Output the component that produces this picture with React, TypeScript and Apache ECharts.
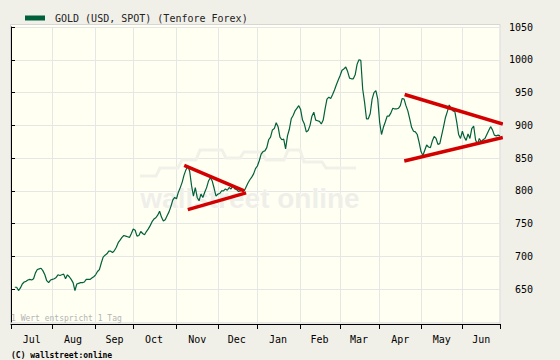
import React, { useEffect, useRef } from 'react';
import * as echarts from 'echarts';

const SERIES_NAME = 'GOLD (USD, SPOT) (Tenfore Forex)';
const MONTHS = ['Jul', 'Aug', 'Sep', 'Oct', 'Nov', 'Dec', 'Jan', 'Feb', 'Mar', 'Apr', 'May', 'Jun'];
const START_DATE = '2007-07-02';
const END_DATE = '2008-06-30';
const Y_MIN = 600;
const Y_MAX = 1050;
const Y_STEP = 50;

// daily closing values (one value per weekday)
const GOLD: (number | null)[] = [
  null, null,
  653, 653, 648, 652, 658, 661, 662, 664, 665, 664,
  666, 675, 680, 681, 682, 678, 672, 663, 660, 664,
  665, 666, 668, 672, 671, 672, 673, 666, 672, 669,
  665, 660, 648, 658, 659, 660, 660, 661, 665, 665,
  665, 667, 669, 672, 677, 680, 690, 699, 702, 704,
  708, 708, 706, 709, 714, 721, 725, 729, 732, 731,
  730, 729, 735, 742, 740, 731, 732, 738, 735, 733,
  738, 742, 747, 753, 757, 759, 763, 769, 760, 754,
  756, 762, 768, 776, 786, 790, 788, 798, 805, 813,
  824, 832, 838, 830, 808, 792, 805, 790, 785, 795,
  790, 798, 805, 815, 820, 815, 804, 792, 795, 796,
  800, 800, 803, 801, 805, 803, 808, 803, 802, 799,
  800, 802, 800, 806, 812, 817, 821, 826, 834, 838,
  846, 856, 860, 861, 866, 878, 882, 893, 895, 904,
  898, 882, 878, 879, 864, 884, 894, 910, 915, 922,
  926, 930, 924, 908, 902, 890, 892, 900, 914, 920,
  908, 907, 906, 902, 908, 925, 940, 943, 941, 947,
  954, 962, 969, 976, 984, 986, 989, 982, 972, 971,
  971, 977, 993, 1000, 999, 955, 935, 910, 910, 918,
  940, 950, 953, 940, 905, 886, 897, 905, 914, 914,
  919, 926, 925, 925, 926, 930, 941, 940, 930, 922,
  910, 897, 891, 890, 886, 874, 860, 854, 862, 870,
  867, 866, 876, 883, 880, 871, 872, 885, 898, 912,
  921, 931, 926, 922, 921, 905, 886, 880, 891, 882,
  877, 887, 880, 895, 899, 878, 871, 880, 875, 878,
  880, 886, 892, 898, 893, 885, 884, 885, 884,
];

// trend lines: [day index, value]
const TREND_1_UPPER = [[92.1, 839], [124, 800]];
const TREND_1_LOWER = [[94, 771.5], [125, 797]];
const TREND_2_UPPER = [[209.3, 947], [261.5, 902]];
const TREND_2_LOWER = [[209.1, 845.5], [261.5, 881.5]];

function buildWeekdays(start: string, end: string): string[] {
  const out: string[] = [];
  const d = new Date(start + 'T00:00:00Z');
  const e = new Date(end + 'T00:00:00Z');
  while (d.getTime() <= e.getTime()) {
    const wd = d.getUTCDay();
    if (wd !== 0 && wd !== 6) out.push(d.toISOString().slice(0, 10));
    d.setUTCDate(d.getUTCDate() + 1);
  }
  return out;
}

const MONO = 'DejaVu Sans Mono';

export default function App() {
  const ref = useRef<HTMLDivElement>(null);
  useEffect(() => {
    if (!ref.current) return;
    const chart = echarts.init(ref.current, undefined, { renderer: 'svg' });
    const cats = buildWeekdays(START_DATE, END_DATE);
    const last = cats.length - 1;
    const monthStarts: number[] = [];
    cats.forEach((c, i) => {
      if (i === 0 || c.slice(5, 7) !== cats[i - 1].slice(5, 7)) monthStarts.push(i);
    });
    const tickSet = new Set<number>([...monthStarts, last]);
    const bounds = [...monthStarts, cats.length];
    const labelMap = new Map<number, string>();
    for (let m = 0; m < monthStarts.length; m++) {
      const mid = Math.floor((bounds[m] + bounds[m + 1]) / 2);
      labelMap.set(mid, MONTHS[m]);
    }
    const trendSeries = [TREND_1_UPPER, TREND_1_LOWER, TREND_2_UPPER, TREND_2_LOWER].map((d) => ({
      type: 'line',
      xAxisIndex: 1,
      yAxisIndex: 0,
      data: d,
      symbol: 'none',
      clip: false,
      silent: true,
      z: 4,
      lineStyle: { color: '#d40000', width: 3.5, cap: 'butt' },
    }));
    chart.setOption({
      animation: false,
      backgroundColor: '#f0efe8',
      textStyle: { fontFamily: MONO },
      legend: {
        data: [SERIES_NAME],
        left: 20,
        top: 8,
        icon: 'rect',
        itemWidth: 20,
        itemHeight: 5,
        selectedMode: false,
        textStyle: { fontFamily: MONO, fontSize: 10, color: '#222', padding: [0, 0, 0, 5] },
      },
      grid: { left: 11, right: 60, top: 27, bottom: 38 },
      xAxis: [
        {
          type: 'category',
          data: cats,
          boundaryGap: false,
          offset: 2,
          axisLine: { show: true, lineStyle: { color: '#000', width: 1 } },
          axisTick: {
            show: true,
            length: 5,
            interval: (i: number) => tickSet.has(i),
            lineStyle: { color: '#000' },
          },
          axisLabel: {
            interval: (i: number) => labelMap.has(i),
            formatter: (_v: string, i: number) => labelMap.get(i) || '',
            fontFamily: MONO,
            fontSize: 10,
            color: '#000',
            margin: 10,
          },
          splitLine: {
            show: true,
            interval: (i: number) => tickSet.has(i),
            lineStyle: { color: '#e6e6e6', width: 1 },
          },
        },
        { type: 'value', min: 0, max: last, show: false },
      ],
      yAxis: [
        {
          type: 'value',
          position: 'right',
          min: Y_MIN,
          max: Y_MAX,
          interval: Y_STEP,
          axisLine: { show: true, lineStyle: { color: '#000', width: 1 } },
          axisTick: { show: true, length: 4, lineStyle: { color: '#000' } },
          axisLabel: {
            showMinLabel: false,
            align: 'right',
            margin: 33,
            fontFamily: MONO,
            fontSize: 10,
            color: '#000',
            formatter: (v: number) => String(v),
          },
          splitLine: { show: true, lineStyle: { color: '#e6e6e6', width: 1 } },
        },
      ],
      graphic: [
        {
          type: 'rect',
          z: -10,
          silent: true,
          shape: { x: 10.5, y: 24.5, width: 489.5, height: 299.5 },
          style: { fill: '#fffff2', stroke: '#d6d6d6', lineWidth: 1 },
        },
        {
          type: 'polyline',
          z: 1,
          silent: true,
          shape: {
            points: [
              [140, 176], [156, 176], [160, 168], [178, 168], [182, 160], [196, 160], [200, 150],
              [222, 150], [226, 158], [240, 158], [244, 152], [262, 152], [266, 160], [284, 160],
              [288, 150], [300, 150], [304, 162], [322, 162], [326, 168], [356, 168],
            ],
          },
          style: { stroke: '#f1f1ea', lineWidth: 3, fill: null },
        },
        {
          type: 'text',
          z: 1,
          silent: true,
          x: 250,
          y: 198,
          style: {
            text: 'wallstreet online',
            fontFamily: 'Liberation Sans',
            fontWeight: 'bold',
            fontSize: 28,
            fill: '#efefe8',
            stroke: '#ffffff',
            lineWidth: 1,
            align: 'center',
            verticalAlign: 'middle',
          },
        },
        {
          type: 'text',
          z: 5,
          silent: true,
          x: 11,
          y: 318,
          style: {
            text: '1 Wert entspricht 1 Tag',
            fontFamily: MONO,
            fontSize: 8,
            fill: '#b4b4b4',
            verticalAlign: 'middle',
          },
        },
        {
          type: 'text',
          silent: true,
          x: 11,
          y: 355,
          style: {
            text: '(C) wallstreet:online',
            fontFamily: MONO,
            fontSize: 8,
            fontWeight: 'bold',
            fill: '#000',
            verticalAlign: 'middle',
          },
        },
      ],
      series: [
        {
          type: 'line',
          name: SERIES_NAME,
          data: GOLD,
          symbol: 'none',
          showSymbol: false,
          connectNulls: false,
          z: 3,
          lineStyle: { color: '#00603c', width: 1.2 },
          itemStyle: { color: '#00603c' },
        },
        ...trendSeries,
      ],
    });
    return () => chart.dispose();
  }, []);
  return (
    <div
      ref={ref}
      style={{ position: 'fixed', left: 0, top: 0, width: 560, height: 360 }}
    />
  );
}
